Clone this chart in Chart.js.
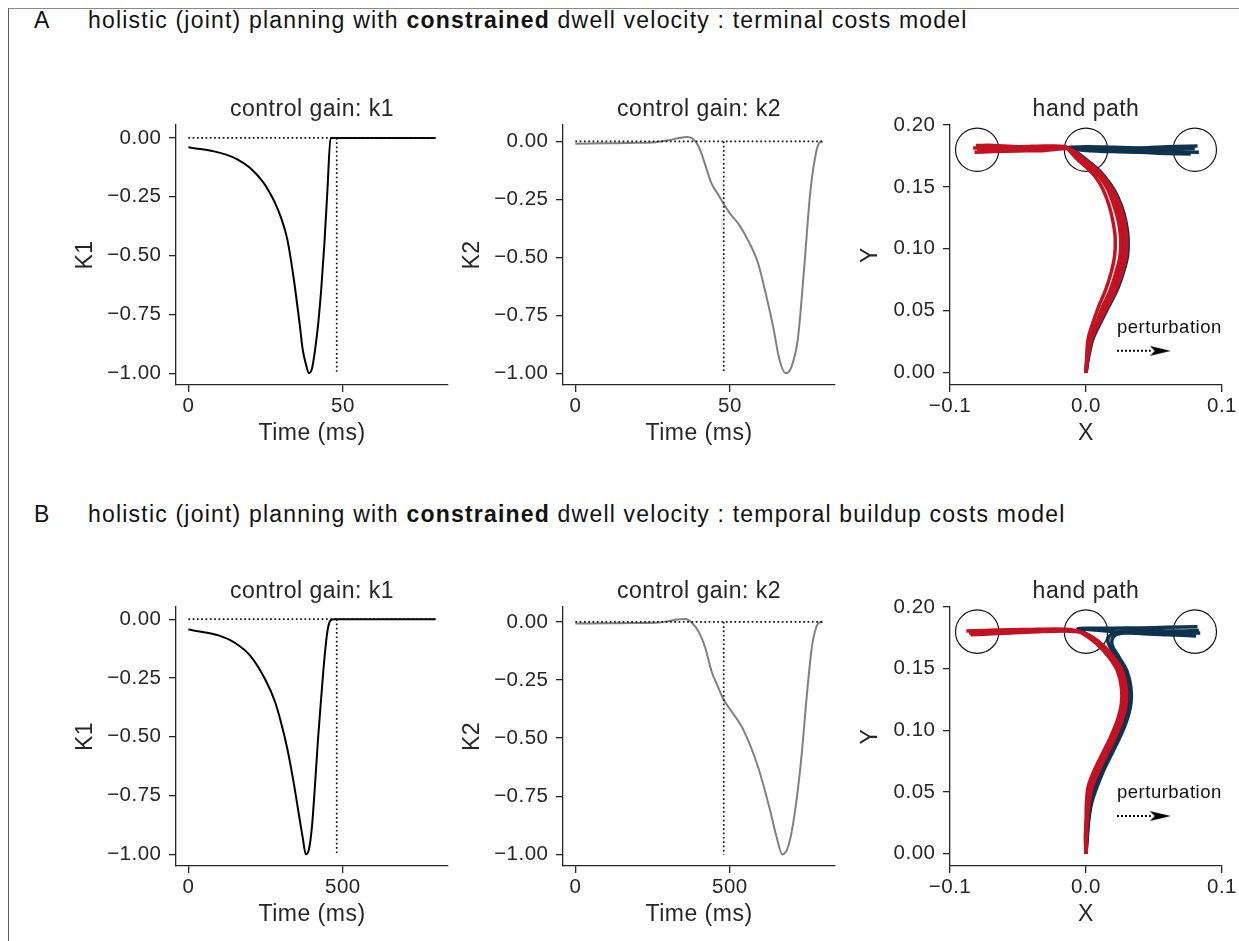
<!DOCTYPE html>
<html><head><meta charset="utf-8">
<script src="https://cdn.jsdelivr.net/npm/chart.js@4.4.1/dist/chart.umd.min.js"></script>
<style>
html,body{margin:0;padding:0;width:1239px;height:941px;overflow:hidden;background:#fff;}
.frame{position:absolute;left:8px;top:8px;width:1400px;height:1100px;border-top:1.5px solid #8a8a8a;border-left:1.5px solid #5f5f5f;}
.lbl{position:absolute;font-family:"Liberation Sans",Arial,sans-serif;font-size:23px;line-height:23px;color:#111;letter-spacing:1.2px;white-space:nowrap;}
canvas{position:absolute;}
</style></head><body>
<div class="frame"></div>
<div class="lbl" style="left:34px;top:9px">A</div>
<div class="lbl" style="left:88px;top:9px">holistic (joint) planning with <b>constrained</b> dwell velocity : terminal costs model</div>
<div class="lbl" style="left:34px;top:503px">B</div>
<div class="lbl" style="left:88px;top:503px">holistic (joint) planning with <b>constrained</b> dwell velocity : temporal buildup costs model</div>
<script>
// ---------------- data ----------------
// Row A (terminal costs), time in ms
const timeK1A = [0,4,8,12,16,20,24,26,28,30,32,34,36,37,38,39,40,41,42,43,44,45,46,48,60,80];
const gainK1A = [-0.040,-0.047,-0.056,-0.070,-0.092,-0.128,-0.185,-0.225,-0.275,-0.34,-0.43,-0.59,-0.79,-0.90,-0.96,-1.0,-0.98,-0.90,-0.79,-0.64,-0.45,-0.22,0,0,0,0];
const timeK2A = [0,10,20,26,30,34,36,38,40,42,44,46,48,50,53,56,59,62,64,66,68,69,70,72,74,76,78,79,80];
const gainK2A = [-0.010,-0.008,-0.006,-0.003,0.005,0.016,0.019,0.012,-0.025,-0.10,-0.18,-0.225,-0.27,-0.31,-0.36,-0.43,-0.52,-0.68,-0.80,-0.94,-1.0,-0.995,-0.97,-0.85,-0.55,-0.22,-0.04,-0.005,0];
const dwellA = 48, endA = 80;
// Row B (temporal buildup costs)
const timeK1B = [0,50,100,150,200,250,280,300,320,340,360,370,380,390,400,410,420,430,440,450,460,470,500,600,800];
const gainK1B = [-0.044,-0.055,-0.070,-0.100,-0.155,-0.26,-0.35,-0.44,-0.55,-0.69,-0.85,-0.93,-1.0,-0.98,-0.88,-0.70,-0.50,-0.33,-0.17,-0.05,-0.005,0,0,0,0];
const timeK2B = [0,100,200,270,300,330,355,380,400,420,440,460,480,500,540,590,630,650,670,690,710,730,750,765,780,790,800];
const gainK2B = [-0.007,-0.006,-0.005,-0.003,0.003,0.010,0.012,-0.008,-0.045,-0.11,-0.21,-0.275,-0.335,-0.375,-0.455,-0.62,-0.81,-0.92,-1.0,-0.96,-0.82,-0.60,-0.30,-0.11,-0.02,-0.002,0];
const dwellB = 480, endB = 800;

// tick values and labels
const gainTicks = [0,-0.25,-0.5,-0.75,-1];
const gainTickLabels = ['0.00','\u22120.25','\u22120.50','\u22120.75','\u22121.00'];
const timeTicksA = [0,50], timeTickLabelsA = ['0','50'];
const timeTicksB = [0,500], timeTickLabelsB = ['0','500'];
const handXTicks = [-0.1,0,0.1], handXTickLabels = ['\u22120.1','0.0','0.1'];
const handYTicks = [0,0.05,0.1,0.15,0.2], handYTickLabels = ['0.00','0.05','0.10','0.15','0.20'];

// targets (x, y)
const targetX = [-0.08, 0, 0.08];
const targetY = [0.18, 0.18, 0.18];

// hand paths, row A: [x, y]
const redA1 = [[0,0],[0.0005,0.013],[0.0015,0.027],[0.005,0.040],[0.0095,0.054],[0.0145,0.067],[0.0185,0.081],[0.021,0.094],[0.0215,0.108],[0.020,0.121],[0.017,0.135],[0.0125,0.148],[0.007,0.158],[0.000,0.166],[-0.007,0.173],[-0.012,0.179],[-0.015,0.1825],[-0.030,0.183],[-0.050,0.1825],[-0.068,0.1835],[-0.081,0.1835]];
const redA2 = [[0,0],[0.001,0.013],[0.003,0.027],[0.0075,0.040],[0.0125,0.054],[0.018,0.067],[0.022,0.081],[0.025,0.094],[0.0255,0.108],[0.024,0.121],[0.0205,0.135],[0.016,0.148],[0.010,0.158],[0.003,0.166],[-0.005,0.173],[-0.011,0.179],[-0.015,0.182],[-0.030,0.1815],[-0.050,0.181],[-0.068,0.1815],[-0.083,0.1815]];
const redA3 = [[0,0],[0.001,0.013],[0.0035,0.027],[0.0085,0.040],[0.0145,0.054],[0.020,0.067],[0.0245,0.081],[0.0275,0.094],[0.028,0.108],[0.0265,0.121],[0.023,0.135],[0.018,0.148],[0.012,0.158],[0.005,0.166],[-0.003,0.173],[-0.010,0.179],[-0.014,0.1815],[-0.030,0.1805],[-0.050,0.180],[-0.068,0.1805],[-0.080,0.180]];
const redA4 = [[0,0],[0.0015,0.013],[0.004,0.027],[0.0095,0.040],[0.016,0.054],[0.022,0.067],[0.0265,0.081],[0.0295,0.094],[0.030,0.108],[0.0285,0.121],[0.025,0.135],[0.0195,0.148],[0.013,0.158],[0.006,0.166],[-0.002,0.173],[-0.009,0.179],[-0.013,0.181],[-0.030,0.1795],[-0.050,0.179],[-0.068,0.1785],[-0.082,0.178]];
const blueA1 = [[0,0],[0.002,0.013],[0.005,0.027],[0.0105,0.040],[0.017,0.054],[0.023,0.067],[0.0275,0.081],[0.0305,0.094],[0.031,0.108],[0.0295,0.121],[0.026,0.135],[0.0205,0.148],[0.014,0.158],[0.007,0.166],[-0.001,0.173],[-0.008,0.179],[-0.012,0.1815],[0.000,0.1825],[0.020,0.182],[0.040,0.1815],[0.060,0.1825],[0.082,0.183]];
const blueA2 = [[0,0],[0.0015,0.013],[0.004,0.027],[0.009,0.040],[0.015,0.054],[0.021,0.067],[0.0255,0.081],[0.0285,0.094],[0.029,0.108],[0.0275,0.121],[0.024,0.135],[0.019,0.148],[0.013,0.158],[0.006,0.166],[-0.002,0.173],[-0.009,0.179],[-0.012,0.182],[0.000,0.181],[0.020,0.1805],[0.040,0.181],[0.060,0.1805],[0.080,0.181]];
const blueA3 = [[0,0],[0.001,0.013],[0.0035,0.027],[0.008,0.040],[0.014,0.054],[0.0195,0.067],[0.024,0.081],[0.027,0.094],[0.0275,0.108],[0.026,0.121],[0.0225,0.135],[0.0175,0.148],[0.0115,0.158],[0.0045,0.166],[-0.003,0.173],[-0.010,0.179],[-0.012,0.1805],[0.000,0.180],[0.020,0.1795],[0.040,0.179],[0.060,0.1785],[0.083,0.178]];
const blueA4 = [[0,0],[0.0015,0.013],[0.0045,0.027],[0.0095,0.040],[0.0155,0.054],[0.0215,0.067],[0.026,0.081],[0.029,0.094],[0.0295,0.108],[0.028,0.121],[0.0245,0.135],[0.0195,0.148],[0.0135,0.158],[0.0065,0.166],[-0.0015,0.173],[-0.0085,0.179],[-0.011,0.181],[0.000,0.1795],[0.020,0.1785],[0.040,0.178],[0.060,0.177],[0.077,0.1765]];

// hand paths, row B
const redB1 = [[0,0],[-0.0005,0.0135],[0,0.027],[0.0003,0.0405],[0.0015,0.054],[0.006,0.0675],[0.012,0.081],[0.018,0.0945],[0.023,0.108],[0.026,0.1215],[0.026,0.135],[0.023,0.1485],[0.017,0.159],[0.009,0.169],[0.001,0.176],[-0.006,0.1805],[-0.015,0.182],[-0.035,0.182],[-0.055,0.1815],[-0.075,0.181],[-0.088,0.1805]];
const redB2 = [[0,0],[0,0.0135],[0.0005,0.027],[0.001,0.0405],[0.003,0.054],[0.008,0.0675],[0.014,0.081],[0.020,0.0945],[0.025,0.108],[0.028,0.1215],[0.028,0.135],[0.025,0.1485],[0.019,0.159],[0.011,0.169],[0.003,0.176],[-0.005,0.180],[-0.015,0.181],[-0.035,0.181],[-0.055,0.1805],[-0.075,0.1795],[-0.086,0.179]];
const redB3 = [[0,0],[0.0003,0.0135],[0.001,0.027],[0.002,0.0405],[0.0045,0.054],[0.0095,0.0675],[0.0155,0.081],[0.0215,0.0945],[0.0265,0.108],[0.0295,0.1215],[0.0295,0.135],[0.0265,0.1485],[0.0205,0.159],[0.0125,0.169],[0.004,0.176],[-0.004,0.1795],[-0.015,0.1805],[-0.035,0.180],[-0.055,0.179],[-0.075,0.178],[-0.085,0.1775]];
const blueB1 = [[0,0],[0.0005,0.0135],[0.0015,0.027],[0.003,0.0405],[0.006,0.054],[0.011,0.0675],[0.017,0.081],[0.023,0.0945],[0.028,0.108],[0.031,0.1215],[0.031,0.135],[0.028,0.1485],[0.021,0.159],[0.012,0.169],[0.003,0.1765],[-0.004,0.1808],[-0.006,0.1822],[0.000,0.1828],[0.020,0.1828],[0.040,0.183],[0.060,0.1835],[0.082,0.184]];
const blueB2 = [[0,0],[0.001,0.0135],[0.002,0.027],[0.004,0.0405],[0.008,0.054],[0.013,0.0675],[0.019,0.081],[0.025,0.0945],[0.030,0.108],[0.033,0.1215],[0.033,0.135],[0.030,0.1485],[0.0245,0.159],[0.020,0.167],[0.019,0.173],[0.022,0.1775],[0.030,0.1792],[0.048,0.1797],[0.066,0.179],[0.084,0.179]];
const blueB3 = [[0,0],[0.0007,0.0135],[0.0017,0.027],[0.0035,0.0405],[0.007,0.054],[0.012,0.0675],[0.018,0.081],[0.024,0.0945],[0.029,0.108],[0.032,0.1215],[0.032,0.135],[0.029,0.1485],[0.023,0.159],[0.018,0.167],[0.016,0.1735],[0.019,0.178],[0.028,0.1805],[0.046,0.181],[0.065,0.1805],[0.083,0.181]];
const blueB4 = [[0,0],[0.0003,0.0135],[0.001,0.027],[0.0025,0.0405],[0.005,0.054],[0.010,0.0675],[0.016,0.081],[0.022,0.0945],[0.027,0.108],[0.030,0.1215],[0.030,0.135],[0.027,0.1485],[0.020,0.159],[0.011,0.169],[0.002,0.176],[-0.004,0.1805],[-0.005,0.1815],[0.002,0.1818],[0.020,0.180],[0.040,0.1785],[0.060,0.1775],[0.081,0.1765]];

// perturbation arrow (x from, x to) and its height
const pertArrowX = [0.0228, 0.0476];
const pertArrowYA = 0.0176, pertTextYA = 0.036;
const pertArrowYB = 0.0305, pertTextYB = 0.049;

// ---------------- drawing ----------------
const FAM = '"Liberation Sans", Arial, sans-serif';
const INK = '#262626';
const RED = '#c41223';
const BLUE = '#0f334f';
const TITLE_H = 28, XH = 62;
const TICK_FS = 20.5, LABEL_FS = 23;

Chart.register({id:'tracking', beforeDraw(c){ c.ctx.letterSpacing = '0.5px'; }});

const panelTitle = {
  id:'panelTitle',
  afterDraw(chart, args, o){
    if (!o || !o.text) return;
    const {ctx, chartArea:a} = chart;
    ctx.save();
    ctx.font = LABEL_FS + 'px ' + FAM;
    ctx.fillStyle = INK; ctx.textAlign = 'center'; ctx.textBaseline = 'middle';
    ctx.fillText(o.text, (a.left + a.right) / 2, a.top - 15.4);
    ctx.restore();
  }
};
const noteText = {
  id:'noteText',
  afterDatasetsDraw(chart, args, o){
    if (!o || !o.text) return;
    const {ctx, scales} = chart;
    ctx.save();
    ctx.font = o.size + 'px ' + FAM;
    ctx.fillStyle = '#111';
    ctx.textAlign = 'left'; ctx.textBaseline = 'middle';
    ctx.fillText(o.text, scales.x.getPixelForValue(o.x), scales.y.getPixelForValue(o.y));
    ctx.restore();
  }
};

function arrowHead(){
  const c = document.createElement('canvas');
  c.width = 40; c.height = 12;
  const g = c.getContext('2d');
  g.fillStyle = '#000';
  g.beginPath(); g.moveTo(40,6); g.lineTo(19,1); g.lineTo(24,6); g.lineTo(19,11); g.closePath(); g.fill();
  return c;
}
const HEAD = arrowHead();

function makeCanvas(a, wy, pr){
  const left = a.l - wy, top = a.t - TITLE_H;
  const c = document.createElement('canvas');
  c.width = a.r + pr - left; c.height = a.b + XH - top;
  c.style.left = left + 'px'; c.style.top = top + 'px';
  document.body.appendChild(c);
  return c;
}
const pts = (xs, ys) => xs.map((x,i)=>({x, y: ys[i]}));
const pairs = arr => arr.map(([x,y])=>({x,y}));

function axis(min, max, ticks, labels, title, fitFn, pad){
  return {
    type:'linear', min, max, bounds:'data',
    afterFit: fitFn,
    afterBuildTicks: s => { s.ticks = ticks.map(v=>({value:v})); },
    ticks:{ autoSkip:false, maxRotation:0, minRotation:0, padding:pad, color:INK,
            font:{family:FAM, size:TICK_FS}, callback:(v,i)=>labels[i] },
    grid:{ display:true, drawOnChartArea:false, drawTicks:true, tickLength:7, color:INK, lineWidth:1.3 },
    border:{ display:true, color:INK, width:1.3 },
    title:{ display:true, text:title, color:INK, font:{family:FAM, size:LABEL_FS}, padding:0 }
  };
}
function baseOptions(title, pr, xs, ys, extraPlugins){
  return {
    responsive:false, animation:false, events:[],
    layout:{padding:{left:0, right:pr, top:TITLE_H, bottom:0}},
    plugins:Object.assign({
      legend:{display:false}, tooltip:{enabled:false}, title:{display:false},
      panelTitle:{text:title}
    }, extraPlugins||{}),
    scales:{x:xs, y:ys}
  };
}

function gainChart(area, title, ylabel, times, gains, color, dwell, tEnd, xmin, xmax, xt, xl, ymin, ymax){
  const WY = 104, PR = 12;
  const c = makeCanvas(area, WY, PR);
  new Chart(c, {
    type:'line',
    data:{datasets:[
      {data:[{x:0,y:0},{x:tEnd,y:0}], borderColor:'#111', borderWidth:1.7, borderDash:[1.7,2.6], pointRadius:0, order:0},
      {data:[{x:dwell,y:0},{x:dwell,y:-1}], borderColor:'#111', borderWidth:1.7, borderDash:[1.7,2.6], pointRadius:0, order:0},
      {data:pts(times, gains), borderColor:color, borderWidth:2, pointRadius:0, cubicInterpolationMode:'monotone', order:1}
    ]},
    options: baseOptions(title, PR,
      axis(xmin, xmax, xt, xl, 'Time (ms)', s=>{s.height = XH;}, 1.7),
      axis(ymin, ymax, gainTicks, gainTickLabels, ylabel, s=>{s.width = WY;}, 7.5)),
    plugins:[panelTitle]
  });
}

function handChart(area, reds, blues, arrowY, textY){
  const WY = 93, PR = 26;
  const c = makeCanvas(area, WY, PR);
  const ds = [];
  ds.push({data:pts(pertArrowX, [arrowY, arrowY]), borderColor:'#000', borderWidth:2, borderDash:[2,2],
           pointRadius:[0,5], pointStyle:['circle', HEAD], order:0});
  reds.forEach(r => ds.push({data:pairs(r), borderColor:RED, borderWidth:3.5, pointRadius:0, tension:0.3, order:1}));
  blues.forEach(b => ds.push({data:pairs(b), borderColor:BLUE, borderWidth:3.5, pointRadius:0, tension:0.3, order:2}));
  ds.push({data:pts(targetX, targetY), showLine:false, pointRadius:21.7, pointStyle:'circle',
           pointBackgroundColor:'rgba(0,0,0,0)', pointBorderColor:'#111', pointBorderWidth:1.2, order:3});
  new Chart(c, {
    type:'line',
    data:{datasets:ds},
    options: baseOptions('hand path', PR,
      axis(-0.1, 0.1, handXTicks, handXTickLabels, 'X', s=>{s.height = XH;}, 1.7),
      axis(-0.01, 0.2, handYTicks, handYTickLabels, 'Y', s=>{s.width = WY;}, 7.5),
      {noteText:{text:'perturbation', x:pertArrowX[0], y:textY, size:18.5}}),
    plugins:[panelTitle, noteText]
  });
}

// Row A
gainChart({l:176,r:448,t:125,b:385}, 'control gain: k1', 'K1', timeK1A, gainK1A, '#000', dwellA, endA, -4, 84, timeTicksA, timeTickLabelsA, -1.05, 0.055);
gainChart({l:563,r:835,t:125,b:385}, 'control gain: k2', 'K2', timeK2A, gainK2A, '#808080', dwellA, endA, -4, 84, timeTicksA, timeTickLabelsA, -1.051, 0.071);
handChart({l:950,r:1222,t:125,b:385}, [redA1,redA2,redA3,redA4], [blueA1,blueA2,blueA3,blueA4], pertArrowYA, pertTextYA);
// Row B
gainChart({l:176,r:448,t:607,b:866}, 'control gain: k1', 'K1', timeK1B, gainK1B, '#000', dwellB, endB, -40, 840, timeTicksB, timeTickLabelsB, -1.05, 0.052);
gainChart({l:563,r:835,t:607,b:866}, 'control gain: k2', 'K2', timeK2B, gainK2B, '#808080', dwellB, endB, -40, 840, timeTicksB, timeTickLabelsB, -1.05, 0.064);
handChart({l:950,r:1222,t:607,b:866}, [redB1,redB2,redB3], [blueB1,blueB2,blueB3,blueB4], pertArrowYB, pertTextYB);
</script>
</body></html>
